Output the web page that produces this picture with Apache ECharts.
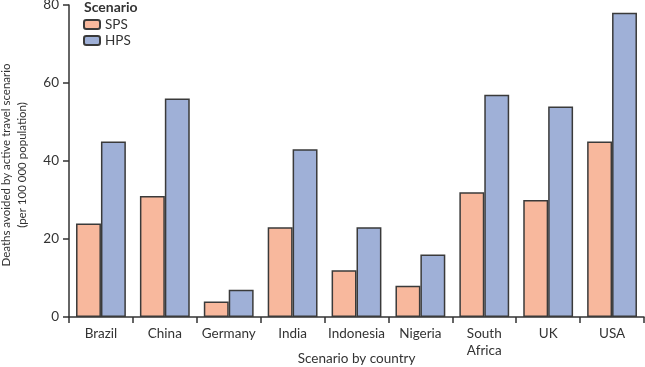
<!DOCTYPE html>
<html>
<head>
<meta charset="utf-8">
<script src="https://cdn.jsdelivr.net/npm/echarts@6/dist/echarts.min.js"></script>
<style>html,body{margin:0;padding:0;background:#fff}#c{width:645px;height:367px}</style>
</head>
<body>
<div id="c"></div>
<script>
const categories = ['Brazil', 'China', 'Germany', 'India', 'Indonesia', 'Nigeria', 'South\nAfrica', 'UK', 'USA'];
const spsValues = [24, 31, 4, 23, 12, 8, 32, 30, 45];
const hpsValues = [45, 56, 7, 43, 23, 16, 57, 54, 78];
const yTicks = [0, 20, 40, 60, 80];

const FONT = 'Lato';
const chart = echarts.init(document.getElementById('c'), null, {renderer: 'canvas'});
chart.setOption({
  animation: false,
  textStyle: {fontFamily: FONT},
  title: {
    text: 'Scenario', left: 84, top: 0, padding: 0,
    textStyle: {fontFamily: FONT, fontSize: 14, fontWeight: 'bold', color: '#333', lineHeight: 15}
  },
  legend: {
    orient: 'vertical', left: 83, top: 17, padding: 0,
    itemWidth: 16, itemHeight: 9, itemGap: 1,
    textStyle: {fontFamily: FONT, fontSize: 13.5, color: '#333', lineHeight: 15},
    data: ['SPS', 'HPS']
  },
  grid: {left: 69, right: 1, top: 5, bottom: 50, containLabel: false, outerBoundsMode: 'none'},
  xAxis: {
    type: 'category', data: categories,
    name: 'Scenario by country', nameLocation: 'middle', nameGap: 34, nameMoveOverlap: false,
    nameTextStyle: {fontFamily: FONT, fontSize: 13.5, color: '#333', lineHeight: 15},
    axisLine: {lineStyle: {color: '#333', width: 1.5}},
    axisTick: {show: true, alignWithLabel: false, length: 6, lineStyle: {color: '#333', width: 1.5}},
    axisLabel: {fontFamily: FONT, fontSize: 13.5, color: '#333', margin: 8, lineHeight: 17, interval: 0}
  },
  yAxis: {
    type: 'value', min: yTicks[0], max: yTicks[yTicks.length - 1], interval: 20,
    name: 'Deaths avoided by active travel scenario\n(per 100 000 population)',
    nameLocation: 'middle', nameGap: 39, nameMoveOverlap: false,
    nameTextStyle: {fontFamily: FONT, fontSize: 11.5, color: '#333', lineHeight: 16, padding: [0, 8, 0, 0]},
    axisLine: {show: true, lineStyle: {color: '#333', width: 1.5}},
    axisTick: {show: true, length: 6, lineStyle: {color: '#333', width: 1.5}},
    axisLabel: {fontFamily: FONT, fontSize: 13.5, color: '#333', margin: 10},
    splitLine: {show: false}
  },
  series: [
    {name: 'SPS', type: 'bar', data: spsValues, barGap: '0%', barCategoryGap: '22%',
     itemStyle: {color: '#f8b89d', borderColor: '#3a3a3a', borderWidth: 1.5}},
    {name: 'HPS', type: 'bar', data: hpsValues, barGap: '0%', barCategoryGap: '22%',
     itemStyle: {color: '#9fb0d7', borderColor: '#3a3a3a', borderWidth: 1.5}}
  ]
});
</script>
</body>
</html>
